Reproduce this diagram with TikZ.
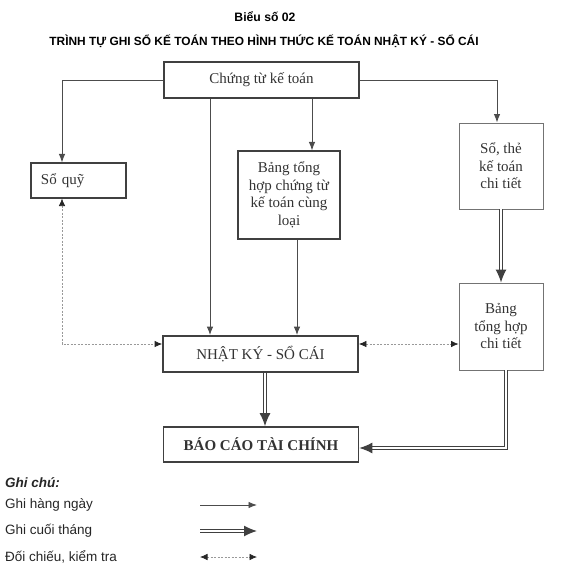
\documentclass[tikz,border=0pt]{standalone}
\usepackage{fontspec}
\setmainfont{Liberation Serif}
\setsansfont{Liberation Sans}
\usetikzlibrary{calc,arrows.meta}

\begin{document}
\begin{tikzpicture}[x=1pt,y=-1pt]
        \tikzstyle{box}=[draw=black!75,line width=1.1pt,text=black!80,font=\fontsize{15}{17.5}\selectfont,inner sep=0pt]
        \tikzstyle{lightbox}=[box,draw=black!55,line width=0.9pt]
        \tikzstyle{bigbox}=[box,line width=1.7pt,minimum width=195pt,minimum height=36pt]
        \tikzstyle{daily}=[draw=black!70,line width=0.95pt,-{Latex[length=8.5pt,width=6.5pt]}]
        \tikzstyle{monthly}=[draw=black!75,double=white,double distance=1.2pt,line width=1.2pt,-{Latex[length=13pt,width=11pt]}]
        \tikzstyle{check}=[draw=black!40,line width=0.7pt,dash pattern=on 2pt off 1.5pt,{Latex[length=7.5pt,width=6.5pt,black!85]}-{Latex[length=7.5pt,width=6.5pt,black!85]}]
        \tikzstyle{legend}=[anchor=west,inner sep=0pt,font=\sffamily\fontsize{13.5}{16}\selectfont,text=black!85]

        \useasboundingbox (0,0) rectangle (571,571);

        \node[font=\sffamily\bfseries\fontsize{12.2}{14}\selectfont] (T1) at (265,17) {Biểu số 02};
        \node[font=\sffamily\bfseries\fontsize{11.9}{14}\selectfont] (T2) at (264,41) {TRÌNH TỰ GHI SỔ KẾ TOÁN THEO HÌNH THỨC KẾ TOÁN NHẬT KÝ - SỔ CÁI};

        \node[box,minimum width=195pt,minimum height=36pt] (CT) at (261.5,80) {Chứng từ kế toán};
        \node[box,minimum width=95pt,minimum height=35pt,text width=75pt,align=left] (SQ) at (78.5,180.5) {Sổ quỹ};
        \node[box,minimum width=102pt,minimum height=88pt,align=center] (BTH) at (289,195) {Bảng tổng\\hợp chứng từ\\kế toán cùng\\loại};
        \node[lightbox,minimum width=84pt,minimum height=86pt,align=center] (STCT) at (501,166) {Sổ, thẻ\\kế toán\\chi tiết};
        \node[lightbox,minimum width=84pt,minimum height=87pt,align=center] (BTHCT) at (501,326.5) {Bảng\\tổng hợp\\chi tiết};
        \node[bigbox] (NKSC) at (260.5,354) {NHẬT KÝ - SỔ CÁI};
        \node[bigbox,minimum height=35pt,font=\bfseries\fontsize{15}{17.5}\selectfont] (BCTC) at (261,444.5) {BÁO CÁO TÀI CHÍNH};

        \draw[daily] (CT.west) -| ([xshift=-16.5pt]SQ.north);
        \draw[daily] (CT.east) -| ([xshift=-4pt]STCT.north);
        \coordinate (c1) at ([xshift=-51.5pt]CT.south);
        \draw[daily] (c1) -- (c1 |- NKSC.north);
        \coordinate (c2) at ([xshift=50.5pt]CT.south);
        \draw[daily] (c2) -- (c2 |- BTH.north);
        \coordinate (c3) at ([xshift=8pt]BTH.south);
        \draw[daily] (c3) -- (c3 |- NKSC.north);

        \coordinate (c4) at ([yshift=10pt]NKSC.west);
        \draw[check] ([xshift=-16.5pt]SQ.south) |- (c4);
        \coordinate (c5) at ([yshift=10pt]NKSC.east);
        \draw[check] (c5) -- (c5 -| BTHCT.west);

        \draw[monthly] (STCT) -- (BTHCT);
        \coordinate (c6) at ([xshift=4.5pt]NKSC.south);
        \draw[monthly] (c6) -- (c6 |- BCTC.north);
        \draw[monthly] ([xshift=5pt]BTHCT.south) |- ([yshift=-3.5pt]BCTC.east);

        \node[legend,font=\sffamily\bfseries\itshape\fontsize{13.5}{16}\selectfont] (GC) at (5,483) {Ghi chú:};
        \node[legend] (L1) at (5,505) {Ghi hàng ngày};
        \node[legend] (L2) at (5,531) {Ghi cuối tháng};
        \node[legend] (L3) at (5,557) {Đối chiếu, kiểm tra};
        \coordinate (a1) at (200,505);
        \coordinate (b1) at (257,505);
        \coordinate (a2) at (200,531);
        \coordinate (b2) at (257,531);
        \coordinate (a3) at (200,557);
        \coordinate (b3) at (257,557);
        \draw[daily] (a1) -- (b1);
        \draw[monthly] (a2) -- (b2);
        \draw[check] (a3) -- (b3);

\end{tikzpicture}
\end{document}
